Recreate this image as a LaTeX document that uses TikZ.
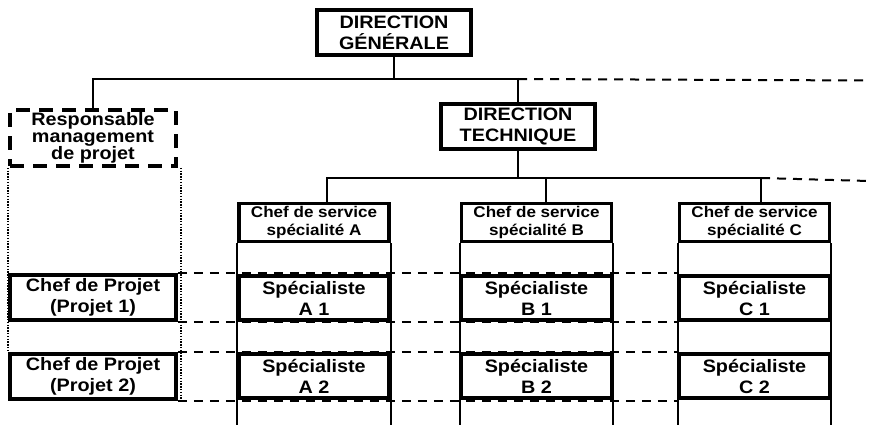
\documentclass[tikz,border=0pt]{standalone}
\usepackage{fontspec}
\setmainfont{Liberation Sans}[FakeStretch=1.1]
\usetikzlibrary{backgrounds}
\begin{document}
\begin{tikzpicture}[x=1pt,y=-1pt,
  box/.style={draw, line width=3.5pt, fill=white, inner sep=0pt, align=center,
    font=\fontsize{18}{21}\selectfont\bfseries},
  headbox/.style={box, line width=4pt, minimum width=154pt, minimum height=45pt},
  servbox/.style={box, minimum width=150pt, minimum height=38pt,
    font=\fontsize{15.5}{18.5}\selectfont\bfseries},
  specbox/.style={box, minimum width=150pt, minimum height=44pt},
  projbox/.style={box, minimum width=166pt, minimum height=45pt},
  respbox/.style={box, dash pattern=on 14pt off 9pt, minimum width=166pt, minimum height=56pt,
    font=\fontsize{18}{16.8}\selectfont\bfseries},
  link/.style={line width=2pt},
  linkdash/.style={line width=2pt, dash pattern=on 9pt off 7pt},
  colline/.style={line width=2.2pt},
  dotline/.style={line width=2pt, dash pattern=on 1.4pt off 1.4pt},
]
\useasboundingbox (0,0) rectangle (869,425);

% hierarchy
\node[headbox] (dg) at (394,33) {DIRECTION\\GÉNÉRALE};
\node[headbox] (dt) at (518,126.5) {DIRECTION\\TECHNIQUE};
\node[respbox] (resp) at (93,138) {Responsable\\management\\de projet};

% service heads
\node[servbox] (csA) at (314,222.5) {Chef de service\\spécialité A};
\node[servbox] (csB) at (536.5,222.5) {Chef de service\\spécialité B};
\node[servbox] (csC) at (754.5,222.5) {Chef de service\\spécialité C};

% project managers
\node[projbox] (cp1) at (93,297.5) {Chef de Projet\\(Projet 1)};
\node[projbox] (cp2) at (93,376.5) {Chef de Projet\\(Projet 2)};

% specialists
\node[specbox] (sA1) at (314,298) {Spécialiste\\A 1};
\node[specbox] (sB1) at (536.5,298) {Spécialiste\\B 1};
\node[specbox] (sC1) at (754.5,298) {Spécialiste\\C 1};
\node[specbox] (sA2) at (314,376) {Spécialiste\\A 2};
\node[specbox] (sB2) at (536.5,376) {Spécialiste\\B 2};
\node[specbox] (sC2) at (754.5,376) {Spécialiste\\C 2};

\coordinate (bus1) at (0,79);
\coordinate (bus2) at (0,178);
\coordinate (bot) at (0,425);
\coordinate (edge1) at (869,80.5);
\coordinate (edge2) at (869,181);

\begin{scope}[on background layer]
  % links under the general direction
  \draw[link] (dg.south) -- (dg.south |- bus1);
  \draw[link] (resp.north) -- (resp.north |- bus1) -- (dt.north |- bus1) -- (dt.north);
  \draw[linkdash] (dt.north |- bus1) -- (edge1);
  % links under the technical direction
  \draw[link] (dt.south) -- (dt.south |- bus2);
  \draw[link] ([xshift=13pt]csA.north) -- ([xshift=13pt]csA.north |- bus2)
    -- ([xshift=6.5pt]csC.north |- bus2) -- ([xshift=6.5pt]csC.north);
  \draw[link] ([xshift=9.5pt]csB.north) -- ([xshift=9.5pt]csB.north |- bus2);
  \draw[linkdash] ([xshift=6.5pt]csC.north |- bus2) -- (edge2);
  % service columns
  \foreach \c in {csA,csB,csC}{
    \draw[colline] (\c.south west) -- (\c.south west |- bot);
    \draw[colline] (\c.south east) -- (\c.south east |- bot);
  }
  % project rows
  \foreach \p in {cp1,cp2}{
    \draw[linkdash] (\p.north east) -- (\p.north east -| csC.west);
    \draw[linkdash] (\p.south east) -- (\p.south east -| csC.west);
  }
  % project management band
  \draw[dotline] (resp.south west) -- (resp.south west |- cp2.north);
  \draw[dotline] ([xshift=3pt]resp.south east) -- ([xshift=3pt]resp.south east |- cp2.south);
\end{scope}
\end{tikzpicture}
\end{document}
